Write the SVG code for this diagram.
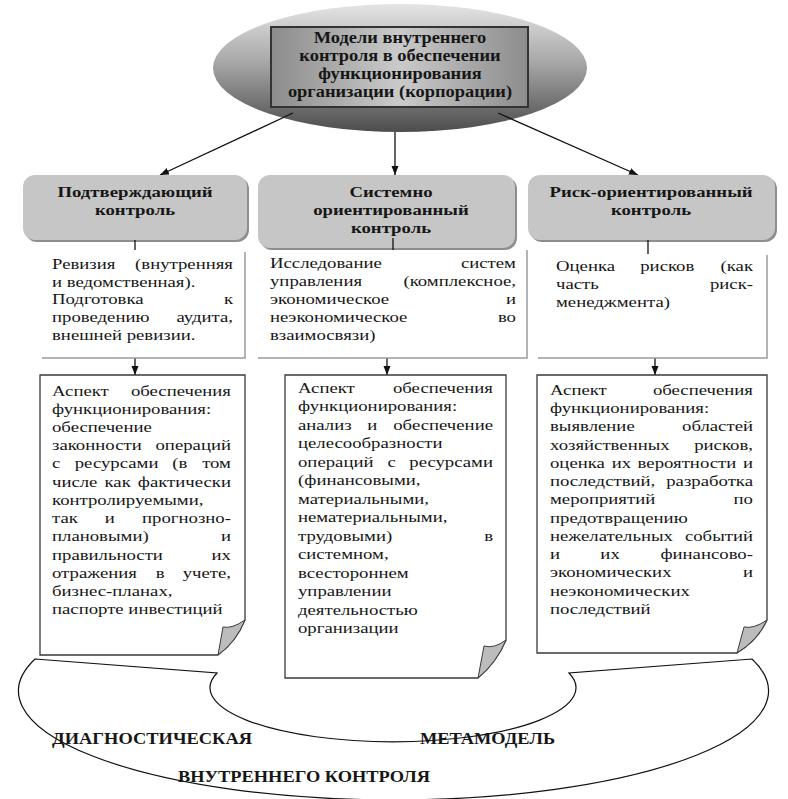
<svg xmlns="http://www.w3.org/2000/svg" width="788" height="799" viewBox="0 0 788 799">
<style>
.t{font-family:"Liberation Serif","Times New Roman",serif;font-size:15px;fill:#161616}
.b{font-weight:bold}
.e{text-anchor:end}
.m{text-anchor:middle}
.hdr{fill:#c6c6c6}
.sh{fill:#8e8e8e}
.box{fill:#fff}
.edge{fill:none;stroke:#9a9a9a;stroke-width:1.5}
.doc{fill:#fff;stroke:#3a3a3a;stroke-width:1.3}
.fold{fill:#bcbcbc;stroke:#3a3a3a;stroke-width:1}
.ln{stroke:#111;stroke-width:1.3;fill:none}
</style>
<defs>
<marker id="ah" markerUnits="userSpaceOnUse" markerWidth="10" markerHeight="8" refX="9" refY="3.5" orient="auto">
<path d="M0,0 L9,3.5 L0,7 Z" fill="#111"/>
</marker>
<linearGradient id="eg" x1="0" y1="0" x2="0" y2="1">
<stop offset="0" stop-color="#e4e4e4"/>
<stop offset="0.45" stop-color="#a8a8a8"/>
<stop offset="1" stop-color="#4c4c4c"/>
</linearGradient>
<linearGradient id="rg" x1="0" y1="0" x2="1" y2="0">
<stop offset="0" stop-color="#8c8c8c"/>
<stop offset="0.5" stop-color="#cacaca"/>
<stop offset="1" stop-color="#8c8c8c"/>
</linearGradient>
</defs>

<g id="root">
<ellipse cx="400" cy="68" rx="187" ry="64" fill="url(#eg)"/>
<rect x="271" y="27" width="257" height="80" fill="url(#rg)" stroke="#333" stroke-width="2"/>
<g transform="translate(400 0) scale(1.15 1)" class="t b m" style="font-size:16px">
<text x="0" y="43">Модели внутреннего</text>
<text x="0" y="61">контроля в обеспечении</text>
<text x="0" y="79">функционирования</text>
<text x="0" y="97">организации (корпорации)</text>
</g>
</g>

<g id="connectors">
<line class="ln" x1="293" y1="113" x2="160" y2="175" marker-end="url(#ah)"/>
<line class="ln" x1="395" y1="132" x2="395" y2="175" marker-end="url(#ah)"/>
<line class="ln" x1="498" y1="113" x2="638" y2="175" marker-end="url(#ah)"/>
<line class="ln" x1="135" y1="358" x2="135" y2="375" marker-end="url(#ah)"/>
<line class="ln" x1="387" y1="358" x2="387" y2="375" marker-end="url(#ah)"/>
<line class="ln" x1="655" y1="358" x2="655" y2="375" marker-end="url(#ah)"/>
</g>

<g id="h1">
<rect class="sh" x="25" y="177" width="224" height="65" rx="12"/>
<rect class="hdr" x="23" y="175" width="224" height="65" rx="12"/>
<g transform="translate(135 0) scale(1.25 1)" class="t b m">
<text x="0" y="197">Подтверждающий</text>
<text x="0" y="215">контроль</text>
</g>
</g>

<g id="h2">
<rect class="sh" x="260" y="177" width="257" height="73" rx="12"/>
<rect class="hdr" x="258" y="175" width="257" height="73" rx="12"/>
<g transform="translate(391 0) scale(1.25 1)" class="t b m">
<text x="0" y="197">Системно</text>
<text x="0" y="215">ориентированный</text>
<text x="0" y="233">контроль</text>
</g>
</g>

<g id="h3">
<rect class="sh" x="530" y="177" width="247" height="65" rx="12"/>
<rect class="hdr" x="528" y="175" width="247" height="65" rx="12"/>
<g transform="translate(651 0) scale(1.25 1)" class="t b m">
<text x="0" y="197">Риск-ориентированный</text>
<text x="0" y="215">контроль</text>
</g>
</g>

<g id="stubs">
<line class="ln" x1="135" y1="240" x2="135" y2="252"/>
<line class="ln" x1="393" y1="238" x2="393" y2="250"/>
<line class="ln" x1="648" y1="240" x2="648" y2="254"/>
</g>

<g id="tA">
<rect class="box" x="40" y="250" width="205" height="108"/>
<path class="edge" d="M245,252 V358 H42"/>
<g transform="translate(52 0) scale(1.25 1)" class="t">
<text x="0" y="269">Ревизия</text><text class="e" x="144.8" y="269">(внутренняя</text>
<text x="0" y="287">и ведомственная).</text>
<text x="0" y="304">Подготовка</text><text class="e" x="144.8" y="304">к</text>
<text x="0" y="322">проведению</text><text class="e" x="144.8" y="322">аудита,</text>
<text x="0" y="340">внешней ревизии.</text>
</g>
</g>

<g id="tB">
<rect class="box" x="258" y="250" width="269" height="108"/>
<path class="edge" d="M527,250 V358 H258"/>
<g transform="translate(270 0) scale(1.25 1)" class="t">
<text x="0" y="268">Исследование</text><text class="e" x="196.8" y="268">систем</text>
<text x="0" y="286">управления</text><text class="e" x="196.8" y="286">(комплексное,</text>
<text x="0" y="304">экономическое</text><text class="e" x="196.8" y="304">и</text>
<text x="0" y="322">неэкономическое</text><text class="e" x="196.8" y="322">во</text>
<text x="0" y="340">взаимосвязи)</text>
</g>
</g>

<g id="tC">
<rect class="box" x="540" y="254" width="227" height="104"/>
<path class="edge" d="M767,255 V358 H538"/>
<g transform="translate(556 0) scale(1.25 1)" class="t">
<text x="0" y="271">Оценка</text><text x="67.4" y="271">рисков</text><text class="e" x="157.6" y="271">(как</text>
<text x="0" y="289">часть</text><text class="e" x="157.6" y="289">риск-</text>
<text x="0" y="307">менеджмента)</text>
</g>
</g>

<g id="d1">
<path class="doc" d="M40,375 H245 V620 Q236,642 218,655 H40 Z"/>
<path class="fold" d="M245,620 Q232,629 223,627 L218,655 Q236,642 245,620 Z"/>
<g transform="translate(52 0) scale(1.25 1)" class="t">
<text x="0" y="396">Аспект</text><text class="e" x="143.2" y="396">обеспечения</text>
<text x="0" y="414">функционирования:</text>
<text x="0" y="432">обеспечение</text>
<text x="0" y="450">законности</text><text class="e" x="143.2" y="450">операций</text>
<text x="0" y="468">с</text><text x="18.2" y="468">ресурсами</text><text x="96.2" y="468">(в</text><text class="e" x="143.2" y="468">том</text>
<text x="0" y="487">числе</text><text x="42" y="487">как</text><text class="e" x="143.2" y="487">фактически</text>
<text x="0" y="505">контролируемыми,</text>
<text x="0" y="523">так</text><text x="42.2" y="523">и</text><text class="e" x="143.2" y="523">прогнозно-</text>
<text x="0" y="541">плановыми)</text><text class="e" x="143.2" y="541">и</text>
<text x="0" y="560">правильности</text><text class="e" x="143.2" y="560">их</text>
<text x="0" y="578">отражения</text><text x="83" y="578">в</text><text class="e" x="143.2" y="578">учете,</text>
<text x="0" y="596">бизнес-планах,</text>
<text x="0" y="614">паспорте инвестиций</text>
</g>
</g>

<g id="d2">
<path class="doc" d="M285,375 H506 V640 Q497,662 478,678 H285 Z"/>
<path class="fold" d="M506,640 Q494,649 484,646 L478,678 Q497,662 506,640 Z"/>
<g transform="translate(298 0) scale(1.25 1)" class="t">
<text x="0" y="393">Аспект</text><text class="e" x="156" y="393">обеспечения</text>
<text x="0" y="411">функционирования:</text>
<text x="0" y="430">анализ</text><text x="55.5" y="430">и</text><text class="e" x="156" y="430">обеспечение</text>
<text x="0" y="448">целесообразности</text>
<text x="0" y="467">операций</text><text x="71.6" y="467">с</text><text class="e" x="156" y="467">ресурсами</text>
<text x="0" y="485">(финансовыми,</text>
<text x="0" y="504">материальными,</text>
<text x="0" y="522">нематериальными,</text>
<text x="0" y="541">трудовыми)</text><text class="e" x="156" y="541">в</text>
<text x="0" y="559">системном,</text>
<text x="0" y="578">всестороннем</text>
<text x="0" y="596">управлении</text>
<text x="0" y="615">деятельностью</text>
<text x="0" y="633">организации</text>
</g>
</g>

<g id="d3">
<path class="doc" d="M537,375 H767 V620 Q758,640 737,653 H537 Z"/>
<path class="fold" d="M767,620 Q754,629 744,627 L737,653 Q758,640 767,620 Z"/>
<g transform="translate(550 0) scale(1.25 1)" class="t">
<text x="0" y="395">Аспект</text><text class="e" x="162.4" y="395">обеспечения</text>
<text x="0" y="413">функционирования:</text>
<text x="0" y="431">выявление</text><text class="e" x="162.4" y="431">областей</text>
<text x="0" y="450">хозяйственных</text><text class="e" x="162.4" y="450">рисков,</text>
<text x="0" y="468">оценка</text><text x="49.4" y="468">их</text><text x="70.1" y="468">вероятности</text><text class="e" x="162.4" y="468">и</text>
<text x="0" y="486">последствий,</text><text class="e" x="162.4" y="486">разработка</text>
<text x="0" y="504">мероприятий</text><text class="e" x="162.4" y="504">по</text>
<text x="0" y="523">предотвращению</text>
<text x="0" y="541">нежелательных</text><text class="e" x="162.4" y="541">событий</text>
<text x="0" y="559">и</text><text x="40.3" y="559">их</text><text class="e" x="162.4" y="559">финансово-</text>
<text x="0" y="577">экономических</text><text class="e" x="162.4" y="577">и</text>
<text x="0" y="596">неэкономических</text>
<text x="0" y="614">последствий</text>
</g>
</g>

<g id="meta">
<path d="M35,659 L217,673 A183,54 0 1 0 569,673 L752,659 A375,109 0 1 1 35,659 Z" fill="#fff" stroke="#111" stroke-width="1.2"/>
<text class="t b" style="font-size:16px" x="52" y="744" textLength="200" lengthAdjust="spacingAndGlyphs">ДИАГНОСТИЧЕСКАЯ</text>
<text class="t b" style="font-size:16px" x="420" y="744" textLength="135" lengthAdjust="spacingAndGlyphs">МЕТАМОДЕЛЬ</text>
<text class="t b" style="font-size:16px" x="178" y="782" textLength="252" lengthAdjust="spacingAndGlyphs">ВНУТРЕННЕГО КОНТРОЛЯ</text>
</g>
</svg>
